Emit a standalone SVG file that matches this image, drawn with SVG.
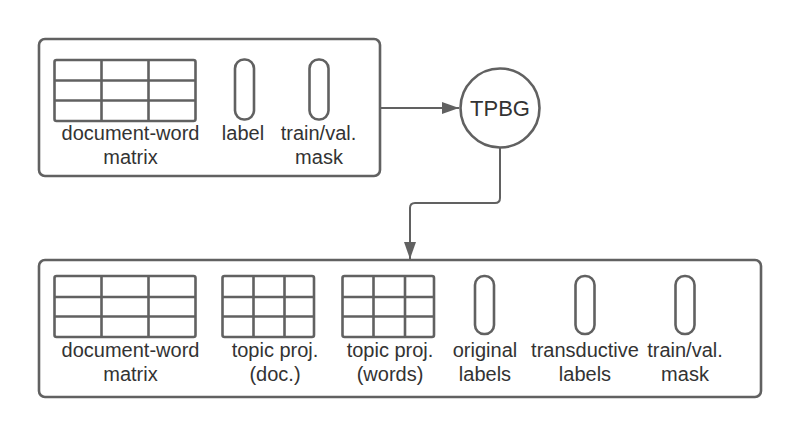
<svg xmlns="http://www.w3.org/2000/svg" width="800" height="436" viewBox="0 0 800 436">
<defs>
<style>
.box{fill:#fff;stroke:#616161;stroke-width:2.6}
.m{fill:none;stroke:#616161;stroke-width:2.6}
.pill{fill:#fff;stroke:#616161;stroke-width:2.6}
.t{font-family:"Liberation Sans",Arial,sans-serif;font-size:20px;fill:#333;text-anchor:middle}
.c{fill:none;stroke:#616161;stroke-width:2}
</style>
<marker id="ah" markerUnits="userSpaceOnUse" markerWidth="18" markerHeight="14" refX="17" refY="7" orient="auto">
<path d="M0,1 L17,7 L0,13 Z" fill="#616161"/>
</marker>
</defs>
<rect width="800" height="436" fill="#fff"/>
<g id="input">
<rect class="box" x="39" y="39" width="341" height="137" rx="6"/>
<g id="in-matrix">
<rect class="m" x="54.5" y="60" width="141" height="61" rx="2"/>
<path class="m" d="M101.5,60V121M148.5,60V121M54.5,80.5H195.5M54.5,100.5H195.5"/>
<text class="t" x="130.5" y="140">document-word</text>
<text class="t" x="130.5" y="164">matrix</text>
</g>
<g id="in-label">
<rect class="pill" x="235" y="59.5" width="19" height="60" rx="9"/>
<text class="t" x="243" y="140">label</text>
</g>
<g id="in-mask">
<rect class="pill" x="309.5" y="59.5" width="19" height="60" rx="9"/>
<text class="t" x="318.5" y="140">train/val.</text>
<text class="t" x="319" y="164">mask</text>
</g>
</g>
<g id="tpbg">
<circle cx="500" cy="108" r="39.5" fill="#fff" stroke="#616161" stroke-width="2.6"/>
<text class="t" x="500" y="116" style="font-size:22px">TPBG</text>
</g>
<g id="output">
<rect class="box" x="39" y="260" width="722" height="137" rx="6"/>
<g id="out-matrix">
<rect class="m" x="54.5" y="276" width="141" height="61" rx="2"/>
<path class="m" d="M101.5,276V337M148.5,276V337M54.5,297H195.5M54.5,316.5H195.5"/>
<text class="t" x="130.5" y="357">document-word</text>
<text class="t" x="130.5" y="381">matrix</text>
</g>
<g id="out-topic-doc">
<rect class="m" x="222.5" y="276" width="91.5" height="61" rx="2"/>
<path class="m" d="M253.5,276V337M284.5,276V337M222.5,297H314M222.5,316.5H314"/>
<text class="t" x="275" y="357">topic proj.</text>
<text class="t" x="275" y="381">(doc.)</text>
</g>
<g id="out-topic-words">
<rect class="m" x="342.5" y="276" width="91.5" height="61" rx="2"/>
<path class="m" d="M373.5,276V337M405,276V337M342.5,297H434M342.5,316.5H434"/>
<text class="t" x="390" y="357">topic proj.</text>
<text class="t" x="390" y="381">(words)</text>
</g>
<g id="out-orig">
<rect class="pill" x="475" y="276" width="19" height="58" rx="9"/>
<text class="t" x="485" y="357">original</text>
<text class="t" x="485" y="381">labels</text>
</g>
<g id="out-trans">
<rect class="pill" x="575.5" y="276" width="19" height="58" rx="9"/>
<text class="t" x="585" y="357">transductive</text>
<text class="t" x="585" y="381">labels</text>
</g>
<g id="out-mask">
<rect class="pill" x="675.5" y="276" width="19" height="58" rx="9"/>
<text class="t" x="685" y="357">train/val.</text>
<text class="t" x="685" y="381">mask</text>
</g>
</g>
<g id="connectors">
<path class="c" d="M380,108H459" marker-end="url(#ah)"/>
<path class="c" d="M500,147.5V198Q500,203 495,203H415Q410,203 410,208V259" marker-end="url(#ah)"/>
</g>
</svg>
